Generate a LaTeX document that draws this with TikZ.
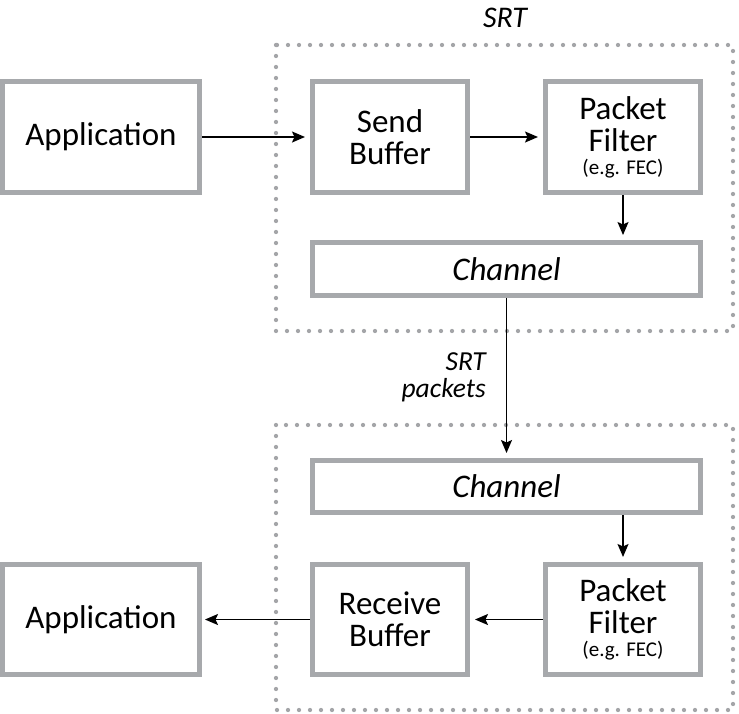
\documentclass[tikz,border=0pt]{standalone}
\usepackage{fontspec}
\setmainfont{Carlito}
\usetikzlibrary{arrows.meta}
\definecolor{boxgray}{HTML}{A7A9AC}
\definecolor{dotgray}{HTML}{A4A5A8}
\begin{document}
\begin{tikzpicture}[x=1pt,y=-1pt,
  box/.style={draw=boxgray, line width=5pt, fill=white, inner sep=0pt, align=center,
    font=\fontsize{33}{32}\selectfont},
  chan/.style={box, font=\fontsize{33}{32}\selectfont\itshape},
  dots/.style={draw=dotgray, line width=4.3pt, line cap=round, dash pattern=on 0pt off 11pt},
  arr/.style={draw=black, line width=1.5pt, -{Stealth[length=13pt,width=11pt,inset=2.5pt]}, shorten >=5pt},
  lbl/.style={font=\fontsize{30}{30}\selectfont\itshape, inner sep=0pt}
]
\useasboundingbox (0,0) rectangle (739,713);
% dotted regions
\draw[dots] (276,45) rectangle (733,331);
\draw[dots] (276,425) rectangle (733,710);
% top row
\node[box, minimum width=197pt, minimum height=111pt] (app1) at (101,137) {Application};
\node[box, minimum width=155pt, minimum height=111pt] (send) at (390,137) {Send\\Buffer};
\node[box, minimum width=155pt, minimum height=111pt] (pf1) at (623,137) {Packet\\Filter\\[-9pt]{\fontsize{21}{22}\selectfont (e.g. FEC)}};
\node[chan, minimum width=388pt, minimum height=53pt] (ch1) at (506.5,269) {Channel};
% bottom
\node[chan, minimum width=388pt, minimum height=52pt] (ch2) at (506.5,486.5) {Channel};
\node[box, minimum width=197pt, minimum height=110pt] (app2) at (101,619.5) {Application};
\node[box, minimum width=155pt, minimum height=110pt] (recv) at (390,619.5) {Receive\\Buffer};
\node[box, minimum width=155pt, minimum height=110pt] (pf2) at (623,619.5) {Packet\\Filter\\[-9pt]{\fontsize{21}{22}\selectfont (e.g. FEC)}};
% labels
\node[lbl] (srt) at (505,18) {SRT};
\node[lbl, align=right, anchor=east, font=\fontsize{27.5}{27}\selectfont\itshape] (pk) at (486,377) {SRT\\packets};
% arrows
\draw[arr] (app1.east) -- (send.west);
\draw[arr] (send.east) -- (pf1.west);
\draw[arr] (pf1.south) -- (pf1.south |- ch1.north);
\draw[arr] (ch1.south) -- (ch2.north);
\draw[arr] (pf2.north |- ch2.south) -- (pf2.north);
\draw[arr] (pf2.west) -- (recv.east);
\draw[arr, shorten >=3pt] (recv.west) -- (app2.east);
\end{tikzpicture}
\end{document}
